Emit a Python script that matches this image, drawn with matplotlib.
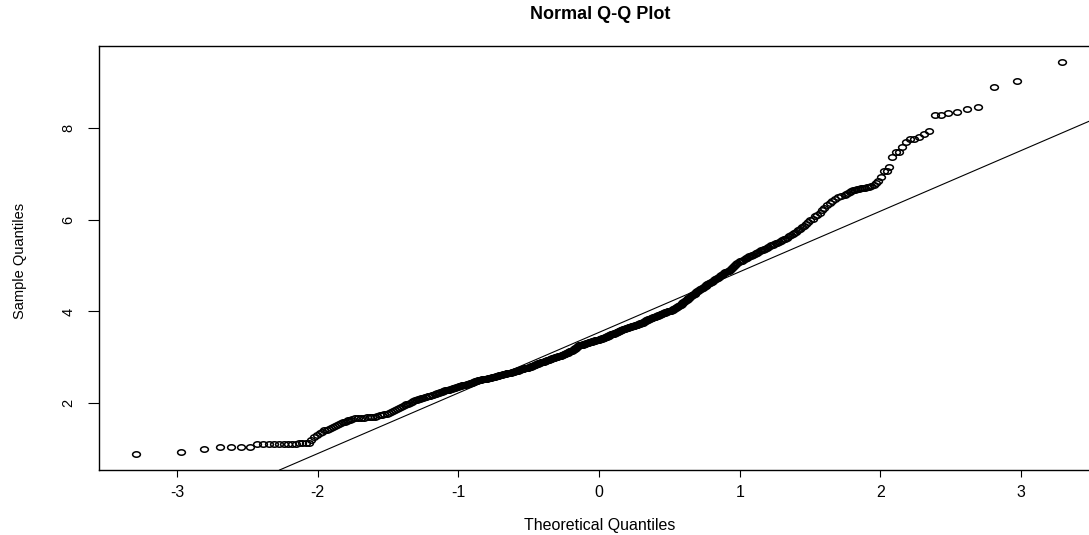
import numpy as np
import matplotlib
matplotlib.use('Agg')
import matplotlib.pyplot as plt
from matplotlib.path import Path
from matplotlib.transforms import Affine2D
from statistics import NormalDist

plt.rcParams['font.family'] = ['Liberation Sans', 'DejaVu Sans']

# sample size of the Q-Q plot and the order statistics shown (first, last, step)
n_sample = 1000
rank_ranges = [(1, 40, 1), (42, 960, 2), (961, 1000, 1)]

# sorted sample values, one per shown rank
sample_quantiles = [
    # ranks 1-40
    0.89, 0.95, 1.00, 1.04, 1.04, 1.04, 1.05, 1.11, 1.11, 1.12,
    1.12, 1.12, 1.12, 1.12, 1.12, 1.12, 1.13, 1.13, 1.13, 1.14,
    1.20, 1.27, 1.31, 1.35, 1.38, 1.41, 1.43, 1.45, 1.47, 1.49,
    1.51, 1.53, 1.55, 1.57, 1.59, 1.60, 1.61, 1.63, 1.64, 1.65,
    # ranks 42-960, every 2nd
    1.67, 1.67, 1.68, 1.69, 1.70, 1.70, 1.71, 1.71, 1.72, 1.74,
    1.75, 1.76, 1.77, 1.79, 1.81, 1.83, 1.86, 1.88, 1.90, 1.92,
    1.94, 1.96, 1.98, 1.99, 2.01, 2.03, 2.05, 2.07, 2.08, 2.09,
    2.10, 2.11, 2.12, 2.13, 2.14, 2.15, 2.16, 2.17, 2.18, 2.19,
    2.20, 2.21, 2.22, 2.23, 2.24, 2.25, 2.26, 2.27, 2.28, 2.29,
    2.30, 2.30, 2.31, 2.32, 2.33, 2.33, 2.34, 2.35, 2.36, 2.37,
    2.37, 2.38, 2.39, 2.40, 2.40, 2.41, 2.42, 2.43, 2.43, 2.44,
    2.45, 2.45, 2.46, 2.47, 2.48, 2.48, 2.49, 2.50, 2.50, 2.51,
    2.51, 2.52, 2.52, 2.53, 2.53, 2.54, 2.54, 2.55, 2.55, 2.56,
    2.56, 2.57, 2.57, 2.58, 2.58, 2.59, 2.59, 2.60, 2.60, 2.61,
    2.61, 2.62, 2.62, 2.63, 2.63, 2.64, 2.64, 2.65, 2.65, 2.66,
    2.66, 2.67, 2.67, 2.68, 2.68, 2.69, 2.69, 2.70, 2.70, 2.71,
    2.71, 2.72, 2.73, 2.73, 2.74, 2.74, 2.75, 2.75, 2.76, 2.76,
    2.77, 2.77, 2.78, 2.78, 2.79, 2.80, 2.80, 2.81, 2.82, 2.82,
    2.83, 2.83, 2.84, 2.85, 2.85, 2.86, 2.87, 2.87, 2.88, 2.89,
    2.89, 2.90, 2.91, 2.91, 2.92, 2.93, 2.93, 2.94, 2.94, 2.95,
    2.95, 2.96, 2.97, 2.97, 2.98, 2.98, 2.99, 2.99, 3.00, 3.00,
    3.01, 3.01, 3.02, 3.03, 3.03, 3.04, 3.04, 3.05, 3.05, 3.06,
    3.07, 3.08, 3.08, 3.09, 3.10, 3.10, 3.11, 3.12, 3.13, 3.13,
    3.14, 3.15, 3.16, 3.17, 3.18, 3.19, 3.20, 3.21, 3.23, 3.24,
    3.25, 3.26, 3.26, 3.27, 3.27, 3.28, 3.28, 3.29, 3.29, 3.30,
    3.30, 3.31, 3.31, 3.32, 3.32, 3.33, 3.33, 3.34, 3.34, 3.34,
    3.35, 3.35, 3.36, 3.36, 3.37, 3.37, 3.38, 3.38, 3.39, 3.39,
    3.40, 3.40, 3.41, 3.41, 3.42, 3.42, 3.43, 3.43, 3.44, 3.44,
    3.45, 3.46, 3.47, 3.47, 3.48, 3.49, 3.50, 3.50, 3.51, 3.52,
    3.52, 3.53, 3.54, 3.54, 3.55, 3.55, 3.56, 3.57, 3.57, 3.58,
    3.59, 3.59, 3.60, 3.61, 3.61, 3.62, 3.62, 3.63, 3.64, 3.64,
    3.65, 3.66, 3.66, 3.67, 3.67, 3.68, 3.68, 3.68, 3.69, 3.69,
    3.70, 3.70, 3.71, 3.71, 3.72, 3.72, 3.73, 3.74, 3.75, 3.76,
    3.76, 3.77, 3.78, 3.79, 3.80, 3.81, 3.81, 3.82, 3.83, 3.83,
    3.84, 3.85, 3.85, 3.86, 3.87, 3.87, 3.88, 3.89, 3.90, 3.90,
    3.91, 3.92, 3.92, 3.93, 3.94, 3.94, 3.95, 3.96, 3.96, 3.97,
    3.98, 3.98, 3.99, 4.00, 4.00, 4.01, 4.01, 4.02, 4.03, 4.04,
    4.05, 4.06, 4.07, 4.08, 4.09, 4.10, 4.11, 4.12, 4.14, 4.15,
    4.17, 4.18, 4.20, 4.21, 4.23, 4.24, 4.26, 4.27, 4.29, 4.30,
    4.32, 4.33, 4.35, 4.36, 4.38, 4.39, 4.41, 4.42, 4.44, 4.45,
    4.47, 4.48, 4.50, 4.51, 4.52, 4.53, 4.55, 4.56, 4.57, 4.59,
    4.60, 4.61, 4.62, 4.64, 4.65, 4.67, 4.68, 4.70, 4.71, 4.73,
    4.74, 4.76, 4.77, 4.79, 4.80, 4.82, 4.83, 4.85, 4.86, 4.88,
    4.89, 4.91, 4.93, 4.95, 4.97, 4.99, 5.01, 5.03, 5.05, 5.07,
    5.09, 5.10, 5.11, 5.13, 5.14, 5.16, 5.17, 5.18, 5.20, 5.21,
    5.22, 5.24, 5.25, 5.27, 5.28, 5.30, 5.31, 5.33, 5.34, 5.36,
    5.37, 5.39, 5.40, 5.42, 5.44, 5.45, 5.47, 5.49, 5.50,
    5.52, 5.53, 5.55, 5.57, 5.58, 5.60, 5.64, 5.66, 5.68, 5.71,
    5.74, 5.77, 5.80, 5.84, 5.87, 5.91, 5.95, 5.99, 6.02, 6.07,
    6.10, 6.14, 6.20, 6.26, 6.31, 6.36, 6.40, 6.44, 6.49, 6.51,
    6.54,
    # ranks 961-1000
    6.55, 6.57, 6.60, 6.62, 6.64, 6.65, 6.66, 6.67, 6.68, 6.69,
    6.70, 6.71, 6.72, 6.74, 6.76, 6.79, 6.85, 6.92, 7.05, 7.07,
    7.14, 7.37, 7.47, 7.48, 7.59, 7.69, 7.75, 7.76, 7.79, 7.87,
    7.92, 8.27, 8.28, 8.33, 8.35, 8.41, 8.46, 8.88, 9.03, 9.44,
]

# reference line
line_intercept = 3.545
line_slope = 1.32

x_ticks = [-3, -2, -1, 0, 1, 2, 3]
y_ticks = [2, 4, 6, 8]

title = 'Normal Q-Q Plot'
x_label = 'Theoretical Quantiles'
y_label = 'Sample Quantiles'

ranks = []
for first, last, step in rank_ranges:
    ranks.extend(range(first, last + 1, step))
ranks = np.array(ranks)
y = np.array(sample_quantiles)

# theoretical quantiles as in R's qqnorm: qnorm(ppoints(n))
nd = NormalDist()
x = np.array([nd.inv_cdf((r - 0.5) / n_sample) for r in ranks])
x_end = nd.inv_cdf(0.5 / n_sample)

W, H = 1089, 535
fig = plt.figure(figsize=(W / 100, H / 100), dpi=100)
# plot box runs past the right edge of the image, as in the reference
ax = fig.add_axes([99 / W, (H - 470) / H, 1000 / W, 424 / H])

# R style open circles (slightly wide in the reference image)
ring = Path.unit_circle().transformed(Affine2D().scale(1.0, 0.7))
ax.plot(x, y, linestyle='none', marker=ring, markersize=5.6,
        markerfacecolor='none', markeredgecolor='black', markeredgewidth=1.1)

ax.axline((0, line_intercept), slope=line_slope, color='black', linewidth=0.8)

xr = 2 * abs(x_end)
ax.set_xlim(x_end - 0.04 * xr, -x_end + 0.04 * xr)
yr = y.max() - y.min()
ax.set_ylim(y.min() - 0.04 * yr, y.max() + 0.04 * yr)

ax.set_xticks(x_ticks)
ax.set_xticklabels([str(t) for t in x_ticks])
ax.set_yticks(y_ticks)
ax.set_yticklabels([str(t) for t in y_ticks])

for side in ['left', 'bottom', 'top']:
    ax.spines[side].set_color('black')
    ax.spines[side].set_linewidth(1.0)
ax.spines['right'].set_visible(False)

ax.tick_params(axis='x', length=5, width=0.8, pad=6, labelsize=11.5)
ax.tick_params(axis='y', length=8, width=0.8, pad=9, labelsize=10.5,
               labelrotation=90)
for lab in ax.get_yticklabels():
    lab.set_verticalalignment('center')

fig.text(600 / W, 1 - 19 / H, title, ha='center', va='baseline',
         fontsize=13, fontweight='bold')
fig.text(600 / W, 1 - 530 / H, x_label, ha='center', va='baseline',
         fontsize=11.5)
fig.text(24 / W, 1 - 261 / H, y_label, ha='center', va='baseline',
         rotation=90, rotation_mode='anchor', fontsize=10.5)

fig.savefig('out.png', dpi=100)
